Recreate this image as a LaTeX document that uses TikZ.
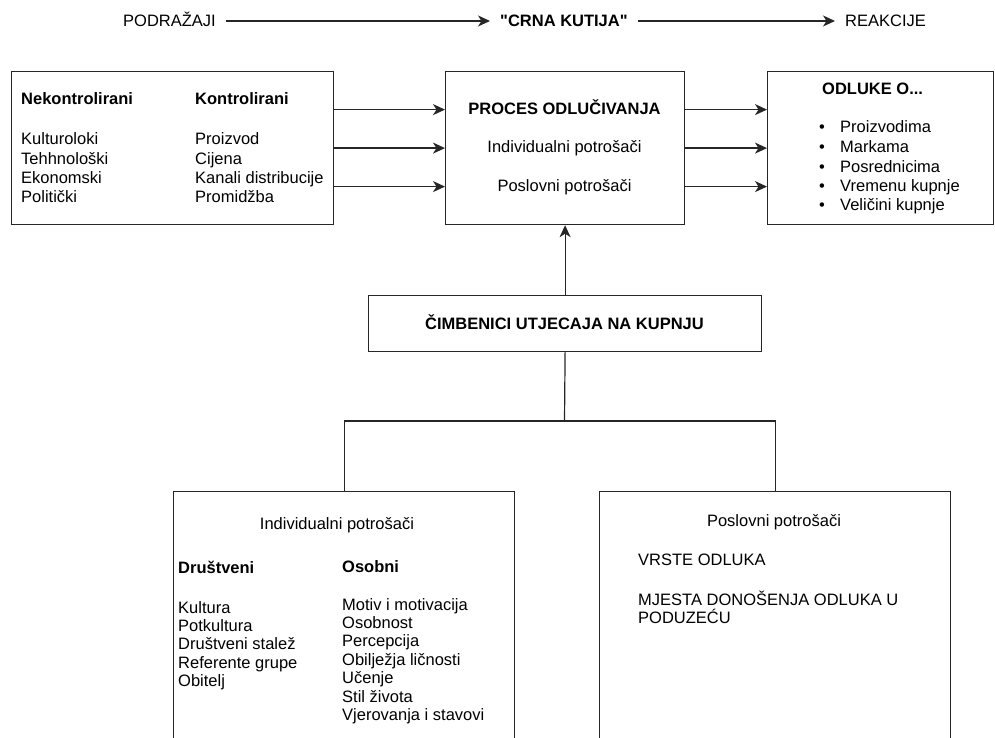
\documentclass[tikz,border=0pt]{standalone}
\usepackage{fontspec}
\setmainfont{Liberation Sans}[Ligatures=TeXOff]
\usetikzlibrary{arrows.meta}
\begin{document}
\begin{tikzpicture}[x=1pt,y=-1pt,
  txt/.style={inner sep=0pt, font=\fontsize{16.5}{19}\selectfont},
  bld/.style={inner sep=0pt, font=\fontsize{16.5}{19}\selectfont\bfseries},
  hdr/.style={inner ysep=0pt, inner xsep=10pt, font=\fontsize{16.5}{19}\selectfont},
  box/.style={draw=black!85, line width=1.2pt, inner sep=0pt, anchor=north west},
  arr/.style={draw=black!85, line width=1.2pt, -{Stealth[length=12pt,width=11pt,inset=3.5pt]}},
  ln/.style={draw=black!85, line width=1.2pt}]
\clip (0,0) rectangle (995,738);
\useasboundingbox (0,0) rectangle (995,738);

% header
\node[hdr, anchor=base west] (pod) at (113,27) {PODRAŽAJI};
\node[hdr, anchor=base west, font=\fontsize{16.5}{19}\selectfont\bfseries] (crna) at (490,27) {"CRNA KUTIJA"};
\node[hdr, anchor=base west] (reak) at (835,27) {REAKCIJE};
\draw[arr] ([yshift=6pt]pod.base east) -- ([yshift=6pt]crna.base west);
\draw[arr] ([yshift=6pt]crna.base east) -- ([yshift=6pt]reak.base west);

% boxes
\node[box, minimum width=322pt, minimum height=153pt] (L) at (11,71) {};
\node[box, minimum width=239pt, minimum height=153pt] (C) at (445,71) {};
\node[box, minimum width=226pt, minimum height=153pt] (R) at (767,71) {};
\node[box, minimum width=393pt, minimum height=56pt] (M) at (368,295) {};
\node[box, minimum width=341pt, minimum height=280pt] (BL) at (173,491) {};
\node[box, minimum width=351pt, minimum height=280pt] (BR) at (599,491) {};

% left box text
\node[bld, anchor=base west] (nk) at (21,105) {Nekontrolirani};
\node[bld, anchor=base west] (ko) at (195,105) {Kontrolirani};
\node[txt, anchor=base west] (n1) at (21,145) {Kulturoloki};
\node[txt, anchor=base west] (n2) at (21,164.3) {Tehhnološki};
\node[txt, anchor=base west] (n3) at (21,183.6) {Ekonomski};
\node[txt, anchor=base west] (n4) at (21,202.9) {Politički};
\node[txt, anchor=base west] (k1) at (195,145) {Proizvod};
\node[txt, anchor=base west] (k2) at (195,164.3) {Cijena};
\node[txt, anchor=base west] (k3) at (195,183.6) {Kanali distribucije};
\node[txt, anchor=base west] (k4) at (195,202.9) {Promidžba};

% center box text
\node[bld, anchor=base] (proc) at (564.5,115) {PROCES ODLUČIVANJA};
\node[txt, anchor=base] (ip) at (564.5,153) {Individualni potrošači};
\node[txt, anchor=base] (pp) at (564.5,192) {Poslovni potrošači};

% right box text
\node[bld, anchor=base west] (od) at (822,95) {ODLUKE O...};
\foreach \i/\t [count=\n] in {133/Proizvodima,152.5/Markama,172/Posrednicima,191.5/Vremenu kupnje,211/Veličini kupnje}{
  \node[txt, anchor=base] (b\n) at (822,\i) {•};
  \node[txt, anchor=base west] (o\n) at (840,\i) {\t};
}

% arrows between top boxes
\draw[arr] ([yshift=38.5pt]L.east) -- ([yshift=38.5pt]C.west);
\draw[arr] (L.east) -- (C.west);
\draw[arr] ([yshift=-38.5pt]L.east) -- ([yshift=-38.5pt]C.west);
\draw[arr] ([yshift=38.5pt]C.east) -- ([yshift=38.5pt]R.west);
\draw[arr] (C.east) -- (R.west);
\draw[arr] ([yshift=-38.5pt]C.east) -- ([yshift=-38.5pt]R.west);

% middle
\node[bld, anchor=base] (cim) at (564.5,329) {ČIMBENICI UTJECAJA NA KUPNJU};
\draw[arr] (M.north) -- (C.south);
\coordinate (j) at (564.5,421);
\draw[ln] (M.south) -- (j);
\draw[ln] (BL.north) |- (j) -| (BR.north);

% bottom left text
\node[txt, anchor=base] (bi) at (337,529) {Individualni potrošači};
\node[bld, anchor=base west] (dr) at (178,573) {Društveni};
\node[bld, anchor=base west] (os) at (342,572) {Osobni};
\foreach \i/\t [count=\n] in {613/Kultura,631.4/Potkultura,649.8/Društveni stalež,668.2/Referente grupe,686.6/Obitelj}{
  \node[txt, anchor=base west] (d\n) at (178,\i) {\t};
}
\foreach \i/\t [count=\n] in {610/Motiv i motivacija,628.4/Osobnost,646.8/Percepcija,665.2/Obilježja ličnosti,683.6/Učenje,702/Stil života,720.4/Vjerovanja i stavovi}{
  \node[txt, anchor=base west] (s\n) at (342,\i) {\t};
}

% bottom right text
\node[txt, anchor=base] (bp) at (774,526) {Poslovni potrošači};
\node[txt, anchor=base west] (vr) at (638,565) {VRSTE ODLUKA};
\node[txt, anchor=base west] (mj1) at (638,605) {MJESTA DONOŠENJA ODLUKA U};
\node[txt, anchor=base west] (mj2) at (638,623.4) {PODUZEĆU};
\end{tikzpicture}
\end{document}
